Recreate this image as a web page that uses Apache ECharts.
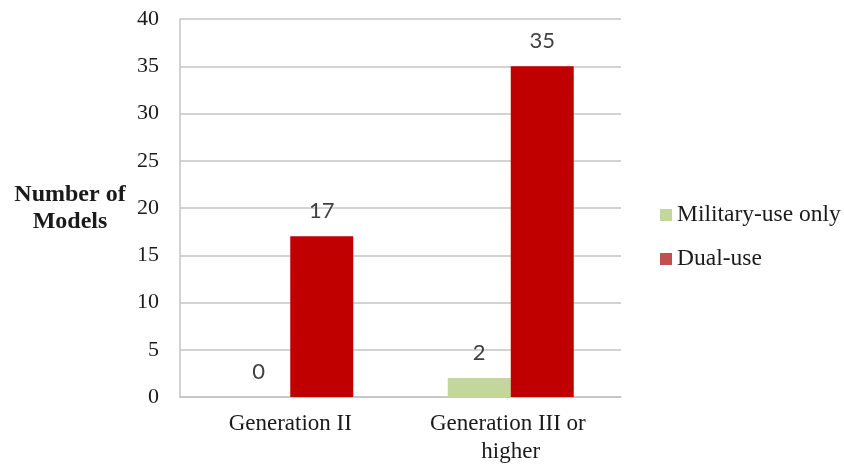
<!DOCTYPE html>
<html>
<head>
<meta charset="utf-8">
<script src="https://cdn.jsdelivr.net/npm/echarts@6/dist/echarts.min.js"></script>
<style>
  html, body { margin: 0; padding: 0; background: #ffffff; }
  #chart { width: 844px; height: 466px; }
</style>
</head>
<body>
<div id="chart"></div>
<script>
// Reactor models by generation and intended use
const categories = ['Generation II', 'Generation III or higher'];
const militaryOnly = [0, 2];
const dualUse = [17, 35];
const yTicks = { min: 0, max: 40, interval: 5 };

const serif = '"Liberation Serif", "Times New Roman", serif';
const gridGray = '#c4c4c4';

const chart = echarts.init(document.getElementById('chart'), null, { renderer: 'canvas' });

const labelStyle = {
  show: true,
  position: 'top',
  distance: 14,
  fontFamily: 'Lato, "Open Sans", sans-serif',
  fontSize: 22,
  color: '#404040'
};

chart.setOption({
  animation: false,
  backgroundColor: '#ffffff',
  grid: { left: 180, top: 19, right: 223, bottom: 69, containLabel: false },
  legend: {
    orient: 'vertical',
    left: 660,
    top: 203,
    padding: 0,
    itemWidth: 12,
    itemHeight: 12,
    itemGap: 20,
    icon: 'rect',
    textStyle: { fontFamily: serif, fontSize: 23.5, color: '#1a1a1a' },
    data: [
      { name: 'Military-use only', itemStyle: { color: '#c3d69b' } },
      { name: 'Dual-use', itemStyle: { color: '#c0504d' } }
    ]
  },
  xAxis: {
    type: 'category',
    data: categories,
    axisLine: { show: true, lineStyle: { color: gridGray, width: 1.5 } },
    axisTick: { show: false },
    axisLabel: {
      interval: 0,
      margin: 13,
      width: 180,
      overflow: 'break',
      lineHeight: 28,
      fontFamily: serif,
      fontSize: 23,
      color: '#1a1a1a'
    }
  },
  yAxis: {
    type: 'value',
    min: yTicks.min,
    max: yTicks.max,
    interval: yTicks.interval,
    name: 'Number of\nModels',
    nameLocation: 'middle',
    nameRotate: 0,
    nameGap: 110,
    nameTextStyle: {
      fontFamily: serif,
      fontSize: 24,
      fontWeight: 'bold',
      color: '#1a1a1a',
      lineHeight: 27,
      align: 'center',
      verticalAlign: 'middle'
    },
    axisLine: { show: true, lineStyle: { color: gridGray, width: 1.5 } },
    axisTick: { show: false },
    axisLabel: {
      margin: 21,
      fontFamily: serif,
      fontSize: 22,
      color: '#1a1a1a'
    },
    splitLine: { show: true, lineStyle: { color: gridGray, width: 1.5 } }
  },
  series: [
    {
      name: 'Military-use only',
      type: 'bar',
      data: militaryOnly,
      barWidth: 63,
      barGap: '0%',
      itemStyle: { color: '#c3d69b' },
      label: labelStyle
    },
    {
      name: 'Dual-use',
      type: 'bar',
      data: dualUse,
      barWidth: 63,
      barGap: '0%',
      itemStyle: { color: '#c00000' },
      label: labelStyle
    }
  ]
});
</script>
</body>
</html>
